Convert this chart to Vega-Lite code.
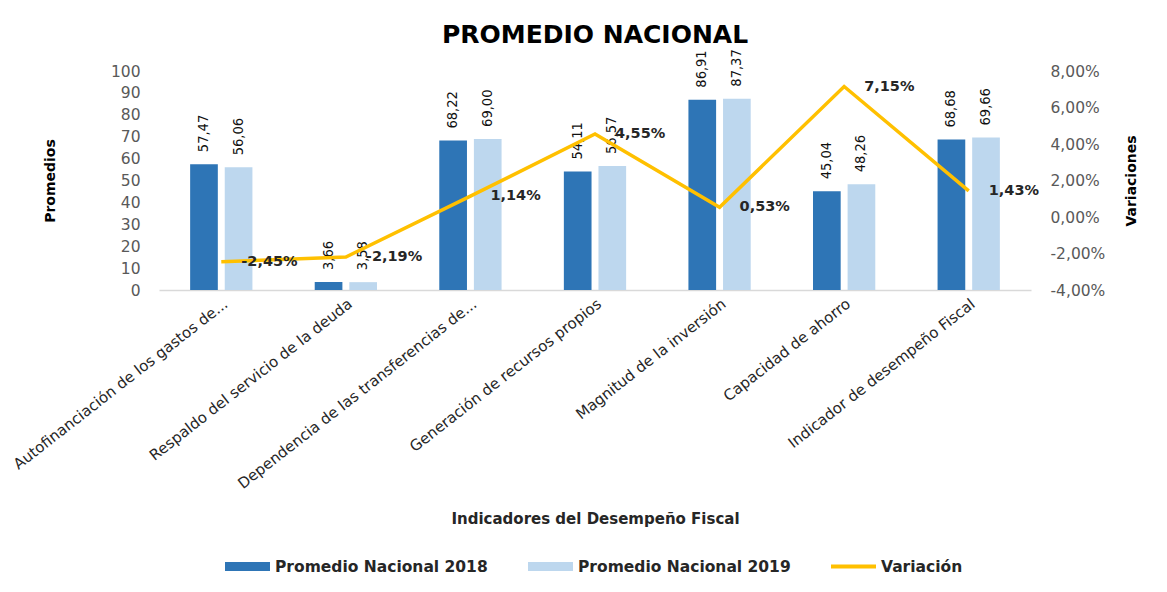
{
  "$schema": "https://vega.github.io/schema/vega-lite/v6.json",
  "width": 872,
  "height": 219,
  "autosize": {"type": "none"},
  "padding": {"left": 159, "top": 71, "right": 136, "bottom": 302},
  "background": "white",
  "config": {
    "locale": {"number": {"decimal": ",", "thousands": ".", "grouping": [3], "currency": ["$", ""], "minus": "-"}},
    "font": "DejaVu Sans",
    "view": {"stroke": null},
    "axis": {"grid": false, "ticks": false}
  },
  "title": {"text": "PROMEDIO NACIONAL", "fontSize": 25, "fontWeight": "bold", "font": "DejaVu Sans", "color": "#000000", "anchor": "middle", "offset": 1},
  "datasets": {
    "promedios": [
      {"indicador": "Autofinanciación de los gastos de...", "serie": "Promedio Nacional 2018", "valor": 57.47},
      {"indicador": "Autofinanciación de los gastos de...", "serie": "Promedio Nacional 2019", "valor": 56.06},
      {"indicador": "Respaldo del servicio de la deuda", "serie": "Promedio Nacional 2018", "valor": 3.66},
      {"indicador": "Respaldo del servicio de la deuda", "serie": "Promedio Nacional 2019", "valor": 3.58},
      {"indicador": "Dependencia de las transferencias de...", "serie": "Promedio Nacional 2018", "valor": 68.22},
      {"indicador": "Dependencia de las transferencias de...", "serie": "Promedio Nacional 2019", "valor": 69.00},
      {"indicador": "Generación de recursos propios", "serie": "Promedio Nacional 2018", "valor": 54.11},
      {"indicador": "Generación de recursos propios", "serie": "Promedio Nacional 2019", "valor": 56.57},
      {"indicador": "Magnitud de la inversión", "serie": "Promedio Nacional 2018", "valor": 86.91},
      {"indicador": "Magnitud de la inversión", "serie": "Promedio Nacional 2019", "valor": 87.37},
      {"indicador": "Capacidad de ahorro", "serie": "Promedio Nacional 2018", "valor": 45.04},
      {"indicador": "Capacidad de ahorro", "serie": "Promedio Nacional 2019", "valor": 48.26},
      {"indicador": "Indicador de desempeño Fiscal", "serie": "Promedio Nacional 2018", "valor": 68.68},
      {"indicador": "Indicador de desempeño Fiscal", "serie": "Promedio Nacional 2019", "valor": 69.66}
    ],
    "variacion": [
      {"indicador": "Autofinanciación de los gastos de...", "variacion": -0.0245},
      {"indicador": "Respaldo del servicio de la deuda", "variacion": -0.0219},
      {"indicador": "Dependencia de las transferencias de...", "variacion": 0.0114},
      {"indicador": "Generación de recursos propios", "variacion": 0.0455},
      {"indicador": "Magnitud de la inversión", "variacion": 0.0053},
      {"indicador": "Capacidad de ahorro", "variacion": 0.0715},
      {"indicador": "Indicador de desempeño Fiscal", "variacion": 0.0143}
    ]
  },
  "encoding": {
    "x": {
      "field": "indicador",
      "type": "nominal",
      "scale": {
        "domain": ["Autofinanciación de los gastos de...", "Respaldo del servicio de la deuda", "Dependencia de las transferencias de...", "Generación de recursos propios", "Magnitud de la inversión", "Capacidad de ahorro", "Indicador de desempeño Fiscal"],
        "paddingInner": 0.5,
        "paddingOuter": 0.25
      },
      "axis": {
        "title": "Indicadores del Desempeño Fiscal",
        "labelAngle": -38,
        "labelFontSize": 15,
        "labelColor": "#262626",
        "labelPadding": 6,
        "labelLimit": 400,
        "labelOverlap": false,
        "domainColor": "#D9D9D9",
        "domainWidth": 1.5,
        "titleFontSize": 15,
        "titleFontWeight": "bold",
        "titleColor": "#262626",
        "titlePadding": 21
      }
    }
  },
  "layer": [
    {
      "data": {"name": "promedios"},
      "encoding": {
        "xOffset": {"field": "serie", "type": "nominal", "scale": {"paddingInner": 0.2, "paddingOuter": 0}},
        "y": {
          "field": "valor",
          "type": "quantitative",
          "scale": {"domain": [0, 100]},
          "axis": {
            "orient": "left",
            "values": [0, 10, 20, 30, 40, 50, 60, 70, 80, 90, 100],
            "tickCount": 11,
            "labelOverlap": false,
            "labelFontSize": 15.5,
            "labelColor": "#595959",
            "labelPadding": 19,
            "domain": false,
            "title": "Promedios",
            "titleFontSize": 14,
            "titleFontWeight": "bold",
            "titleColor": "#000000",
            "titlePadding": 53
          }
        }
      },
      "layer": [
        {
          "mark": {"type": "bar"},
          "encoding": {
            "color": {
              "field": "serie",
              "type": "nominal",
              "scale": {"domain": ["Promedio Nacional 2018", "Promedio Nacional 2019", "Variación"], "range": ["#2E75B6", "#BDD7EE", "#FFC000"]},
              "legend": {
                "orient": "none",
                "legendX": 66,
                "legendY": 473,
                "direction": "horizontal",
                "title": null,
                "labelFont": "DejaVu Sans",
                "labelFontSize": 15.5,
                "labelFontWeight": "bold",
                "labelColor": "#262626",
                "labelLimit": 400,
                "symbolSize": 2025,
                "columnPadding": 40,
                "labelOffset": 5,
                "encode": {
                  "symbols": {
                    "update": {
                      "shape": {"signal": "datum.value === 'Variación' ? 'M-1,-0.09H1V0.09H-1Z' : 'M-1,-0.2H1V0.2H-1Z'"},
                      "fill": {"signal": "scale('color', datum.value)"},
                      "strokeWidth": {"value": 0},
                      "opacity": {"value": 1},
                      "fillOpacity": {"value": 1}
                    }
                  }
                }
              }
            }
          }
        },
        {
          "mark": {"type": "text", "angle": 270, "align": "left", "baseline": "middle", "dx": 12, "font": "DejaVu Sans Condensed", "fontSize": 14.5, "color": "#111111"},
          "encoding": {
            "text": {"field": "valor", "type": "quantitative", "format": ".2f"}
          }
        }
      ]
    },
    {
      "data": {"name": "variacion"},
      "encoding": {
        "y": {
          "field": "variacion",
          "type": "quantitative",
          "scale": {"domain": [-0.04, 0.08]},
          "axis": {
            "orient": "right",
            "values": [-0.04, -0.02, 0, 0.02, 0.04, 0.06, 0.08],
            "tickCount": 7,
            "labelOverlap": false,
            "format": ".2%",
            "labelFontSize": 15.5,
            "labelColor": "#595959",
            "labelPadding": 19,
            "domain": false,
            "title": "Variaciones",
            "titleAngle": 270,
            "titleFontSize": 14,
            "titleFontWeight": "bold",
            "titleColor": "#000000",
            "titlePadding": 34
          }
        }
      },
      "layer": [
        {
          "mark": {"type": "line", "strokeWidth": 3.5},
          "encoding": {
            "color": {"datum": "Variación"}
          }
        },
        {
          "mark": {"type": "text", "align": "left", "baseline": "middle", "dx": 20, "fontWeight": "bold", "fontSize": 14.5, "color": "#262626"},
          "encoding": {
            "text": {"field": "variacion", "type": "quantitative", "format": ".2%"}
          }
        }
      ]
    }
  ],
  "resolve": {"scale": {"y": "independent"}}
}
